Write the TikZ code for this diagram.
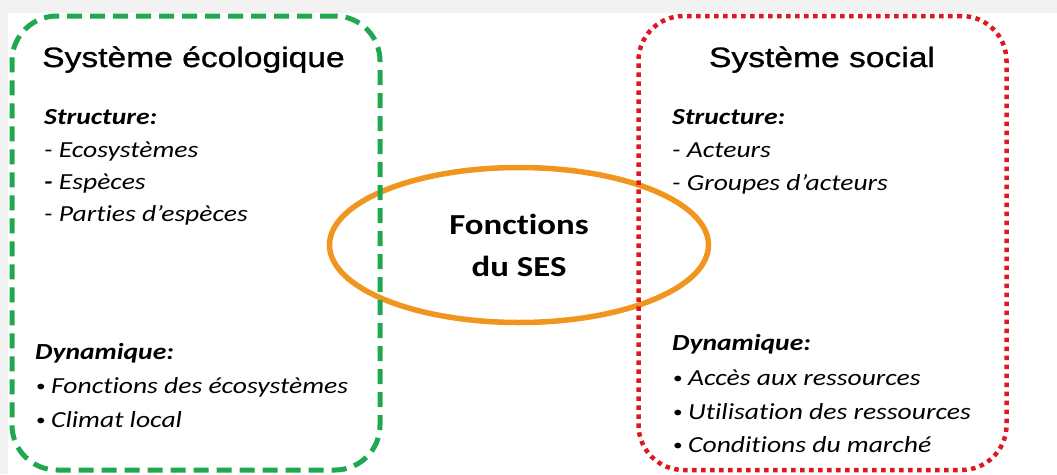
\documentclass[tikz,border=0pt]{standalone}
\usepackage{fontspec}
\setmainfont{Carlito}[FakeStretch=1.2, Ligatures=NoCommon]
\newfontfamily\titlefont{Liberation Sans}[FakeStretch=1.2, FakeBold=1]
\usetikzlibrary{shapes.geometric}
\definecolor{ecogreen}{RGB}{32,168,80}
\definecolor{socred}{RGB}{222,24,32}
\definecolor{sesorange}{RGB}{240,150,30}
\definecolor{slidegray}{RGB}{242,242,242}
\newcommand\puce{\makebox[16pt][l]{\hspace{1pt}\raisebox{2pt}{\upshape\fontsize{16}{16}\selectfont•}}}

\begin{document}
\begin{tikzpicture}[x=1pt, y=-1pt,
  titre/.style={inner sep=0, font=\titlefont\fontsize{28}{34}\selectfont},
  rubrique/.style={anchor=base west, inner sep=0, font=\fontsize{23}{28}\selectfont\bfseries\itshape},
  item/.style={anchor=base west, inner sep=0, font=\fontsize{23}{28}\selectfont\itshape},
  boite/.style={rectangle, rounded corners=45, minimum width=368, minimum height=454, inner sep=0}]
\useasboundingbox (0,0) rectangle (1057,474);
\fill[slidegray] (0,0) rectangle (1057,13);
\fill[slidegray] (0,13) rectangle (8,474);
% fonctions du SES
\node[ellipse, draw=sesorange, line width=5.5, minimum width=379, minimum height=155, inner sep=0,
  align=center, font=\fontsize{29}{42}\selectfont\bfseries] (fct) at (519,245) {Fonctions\\du SES};
% les deux systemes
\node[boite, draw=ecogreen, line width=5, dash pattern=on 15 off 8] (eco) at (196,243) {};
\node[boite, draw=socred, line width=4.5, dash pattern=on 4.5 off 4.5] (soc) at (822.5,243) {};
% systeme ecologique
\node[titre, anchor=base west] (ecot) at (42,67) {Système écologique};
\node[rubrique] (ecostr) at (44,124) {Structure:};
\foreach \y/\t in {157/{- Ecosystèmes}, 189/{\textbf{-} Espèces}, 221/{- Parties d’espèces}}
  \node[item] (ecostr\y) at (44,\y) {\t};
\node[rubrique] (ecodyn) at (35,359) {Dynamique:};
\foreach \y/\t in {393/{Fonctions des écosystèmes}, 427/{Climat local}}
  \node[item] (ecodyn\y) at (35,\y) {\puce\t};
% systeme social
\node[titre, anchor=base] (soct) at (822,67) {Système social};
\node[rubrique] (socstr) at (672,124) {Structure:};
\foreach \y/\t in {157/{- Acteurs}, 190/{- Groupes d’acteurs}}
  \node[item] (socstr\y) at (672,\y) {\t};
\node[rubrique] (socdyn) at (672,350) {Dynamique:};
\foreach \y/\t in {385/{Accès aux ressources}, 419/{Utilisation des ressources}, 452/{Conditions du marché}}
  \node[item] (socdyn\y) at (672,\y) {\puce\t};
\end{tikzpicture}
\end{document}
